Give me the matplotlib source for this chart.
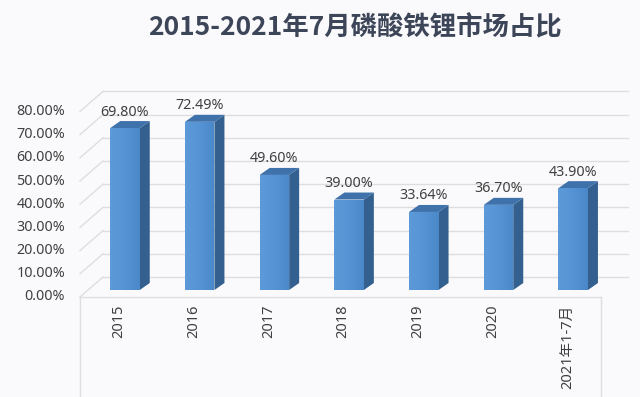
import matplotlib
matplotlib.use("Agg")
import matplotlib.pyplot as plt
from matplotlib.patches import Polygon
from matplotlib.colors import LinearSegmentedColormap
import numpy as np

plt.rcParams['font.family'] = ['Noto Sans', 'Noto Sans CJK SC', 'DejaVu Sans']

title = "2015-2021年7月磷酸铁锂市场占比"
categories = ["2015", "2016", "2017", "2018", "2019", "2020", "2021年1-7月"]
values = [69.80, 72.49, 49.60, 39.00, 33.64, 36.70, 43.90]
value_labels = ["69.80%", "72.49%", "49.60%", "39.00%", "33.64%", "36.70%", "43.90%"]
yticks = [0, 10, 20, 30, 40, 50, 60, 70, 80]
ytick_labels = ["0.00%", "10.00%", "20.00%", "30.00%", "40.00%", "50.00%", "60.00%", "70.00%", "80.00%"]

W, H = 640, 397
fig = plt.figure(figsize=(6.4, 3.97), dpi=100)
bg = "#fafafc"
fig.patch.set_facecolor(bg)
ax = fig.add_axes([0, 0, 1, 1])
ax.set_facecolor(bg)

# pixel scale of data units
step_px = 74.7          # pixels per category
unit_px = 2.32          # pixels per percent
x0_px, y0_px = 125.0, 290.0
ax.axis("off")

px = 1.0 / step_px
py = 1.0 / unit_px

grid_c = "#dedede"
# wall geometry (in pixel offsets relative to bar front plane)
front_x = (80 - x0_px) * px
back_x = (103 - x0_px) * px
right_x = (628 - x0_px) * px
front_dy = -7 * py
back_dy = 13 * py
for t in yticks:
    ax.plot([front_x, back_x], [t + front_dy, t + back_dy], color=grid_c, lw=1, zorder=1)
    ax.plot([back_x, right_x], [t + back_dy, t + back_dy], color=grid_c, lw=1, zorder=1)

# floor / category area frame
floor_right = (601 - x0_px) * px
ax.plot([front_x, floor_right], [front_dy, front_dy], color=grid_c, lw=1, zorder=1)
ax.plot([front_x, front_x], [front_dy, (y0_px - H) * py], color=grid_c, lw=1, zorder=1)
ax.plot([floor_right, floor_right], [front_dy, (y0_px - H) * py], color=grid_c, lw=1, zorder=1)

# y tick labels
for t, lab in zip(yticks, ytick_labels):
    ax.text((65 - x0_px) * px, t + front_dy, lab, ha="right", va="center",
            fontsize=10.3, color="#404040")

# bars
fw = 29.5 * px
dx = 10 * px
dy = 7 * py
side_c = "#33608f"
top_c = "#3f71aa"
cmap = LinearSegmentedColormap.from_list("b", ["#5d9ad9", "#5593d5", "#4b88ca"])
for i, v in enumerate(values):
    xl = i - fw / 2
    xr = i + fw / 2
    ax.add_patch(Polygon([[xr, 0], [xr + dx, dy], [xr + dx, v + dy], [xr, v]],
                         closed=True, facecolor=side_c, edgecolor="none", zorder=3))
    ax.add_patch(Polygon([[xl, v], [xr, v], [xr + dx, v + dy], [xl + dx, v + dy]],
                         closed=True, facecolor=top_c, edgecolor="none", zorder=3))
    poly = Polygon([[xl, 0], [xr, 0], [xr, v], [xl, v]], closed=True,
                   facecolor="none", edgecolor="none", zorder=4)
    ax.add_patch(poly)
    grad = np.linspace(0, 1, 64).reshape(1, -1)
    grad = np.vstack([grad] * 2)
    im = ax.imshow(grad, cmap=cmap, extent=[xl, xr, 0, v], aspect="auto",
                   zorder=4, interpolation="bilinear")
    im.set_clip_path(poly)
    ax.text(i, v + 16 * py, value_labels[i], ha="center", va="center",
            fontsize=10.3, color="#404040", zorder=5)

# category labels
for i, c in enumerate(categories):
    ax.text(i - 6 * px, (290 - 305) * py, c, rotation=90, ha="center", va="top",
            fontsize=10.5, color="#404040")

ax.set_xlim(-x0_px / step_px, (W - x0_px) / step_px)
ax.set_ylim((y0_px - H) / unit_px, y0_px / unit_px)

fig.text(355 / W, 1 - 28 / H, title, ha="center", va="center", fontsize=19,
         fontweight="bold", color="#3d4658", family=["Noto Sans CJK SC", "DejaVu Sans"])

fig.savefig("out.png", dpi=100, facecolor=bg)
